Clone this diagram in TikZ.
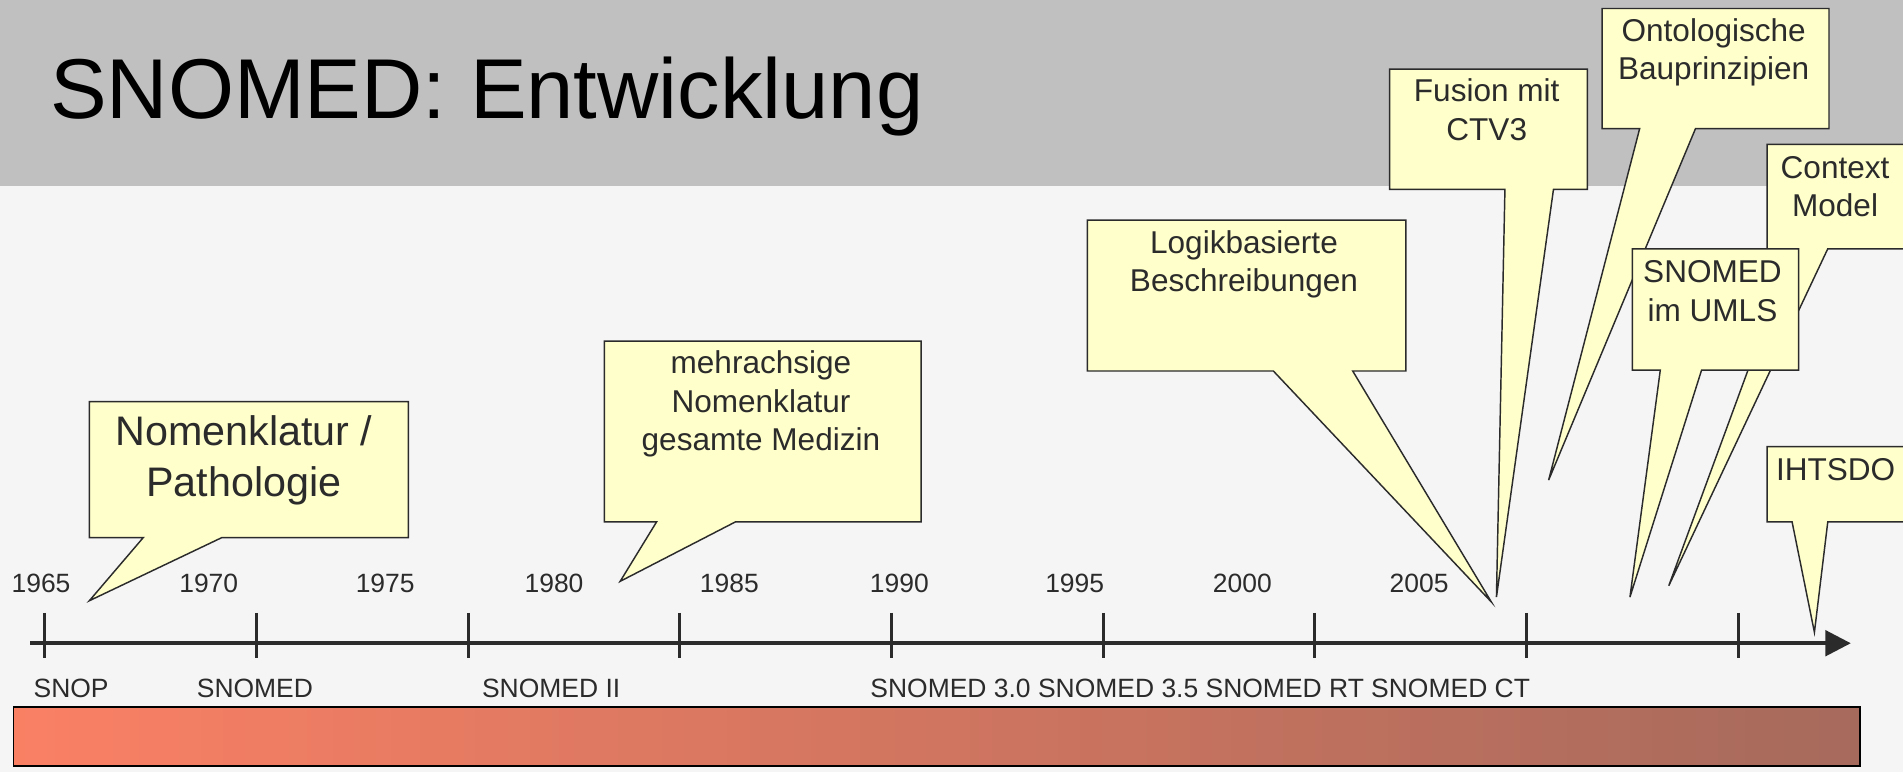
\documentclass[tikz,border=0pt]{standalone}
\usepackage{fontspec}
\setmainfont{Liberation Sans}
\usetikzlibrary{arrows.meta}
\definecolor{titlebar}{HTML}{C0C0C0}
\definecolor{bgcol}{HTML}{F5F5F5}
\definecolor{note}{HTML}{FFFFCC}
\definecolor{ink}{HTML}{2B2B2B}
\definecolor{barL}{RGB}{250,128,100}
\definecolor{barR}{RGB}{166,106,92}
\begin{document}
\begin{tikzpicture}[x=1pt,y=-1pt,
  callout/.style={fill=note,draw=ink,line width=1.2pt,line join=miter},
  ctext/.style={inner sep=0pt,anchor=base,text=ink,font=\fontsize{26}{31.6}\selectfont},
  bigtext/.style={inner sep=0pt,anchor=base,text=ink,font=\fontsize{34}{42.6}\selectfont},
  yearlabel/.style={inner sep=0pt,anchor=base,text=ink,font=\fontsize{21.8}{26}\selectfont},
  versionlabel/.style={inner sep=0pt,anchor=base west,text=ink,font=\fontsize{21.8}{26}\selectfont},
  tickmark/.style={draw=ink,line width=2.6pt},
]
\useasboundingbox (0,0) rectangle (1568,636);
\clip (0,0) rectangle (1568,636);
% background and title bar
\fill[bgcol] (0,0) rectangle (1568,636);
\fill[titlebar] (0,0) rectangle (1568,153);
\node[inner sep=0pt,anchor=base west,text=black,font=\fontsize{70}{84}\selectfont] (title) at (41,97.5) {SNOMED: Entwicklung};

% gradient bar
\shade[left color=barL,right color=barR] (11,582.3) rectangle (1532.6,631);
\draw[black,line width=1.3pt] (11,582.3) rectangle (1532.6,631);

% axis
\coordinate (axS) at (25,530);
\coordinate (axE) at (1525,530);
\draw[ink,line width=3pt,-{Triangle[length=21pt,width=21pt]}] (axS) -- (axE);
\foreach \x in {37,211.4,385.8,560.2,734.6,909,1083.4,1257.8,1432.2}
  \draw[tickmark] (\x,505) -- (\x,542);

% year labels
\node[yearlabel] (y1965) at (33.8,488) {1965};
\node[yearlabel] (y1970) at (172,488) {1970};
\node[yearlabel] (y1975) at (317.4,488) {1975};
\node[yearlabel] (y1980) at (456.5,488) {1980};
\node[yearlabel] (y1985) at (601,488) {1985};
\node[yearlabel] (y1990) at (741,488) {1990};
\node[yearlabel] (y1995) at (885.5,488) {1995};
\node[yearlabel] (y2000) at (1023.6,488) {2000};
\node[yearlabel] (y2005) at (1169.3,488) {2005};

% version labels
\node[versionlabel] (vSnop) at (27.5,575) {SNOP};
\node[versionlabel] (vSnomed) at (162,575) {SNOMED};
\node[versionlabel] (vSnomedII) at (397,575) {SNOMED II};
\node[versionlabel] (vLater) at (717,575) {SNOMED 3.0 SNOMED 3.5 SNOMED RT SNOMED CT};

% callout 1: Nomenklatur / Pathologie
\fill[callout] (73.6,331) -- (336.5,331) -- (336.5,443) -- (182.7,443) -- (73.6,495) -- (118,443) -- (73.6,443) -- cycle;
\node[bigtext] (nomT) at (201,366.7) {\begin{tabular}[t]{@{}c@{}}Nomenklatur /\\Pathologie\end{tabular}};

% callout 2: mehrachsige Nomenklatur
\fill[callout] (498,281) -- (759,281) -- (759,430) -- (606,430) -- (511,479) -- (541,430) -- (498,430) -- cycle;
\node[ctext] (mehrT) at (627,308) {\begin{tabular}[t]{@{}c@{}}mehrachsige\\Nomenklatur\\gesamte Medizin\end{tabular}};

% callout 3: Logikbasierte Beschreibungen
\fill[callout] (896,181.3) -- (1158.3,181.3) -- (1158.3,305.7) -- (1114.6,305.7) -- (1228.8,496) -- (1049.2,305.7) -- (896,305.7) -- cycle;
\node[ctext] (logT) at (1025,208.7) {\begin{tabular}[t]{@{}c@{}}Logikbasierte\\Beschreibungen\end{tabular}};

% callout 4: Fusion mit CTV3
\fill[callout] (1145,57) -- (1308,57) -- (1308,156) -- (1280,156) -- (1233,492) -- (1240,156) -- (1145,156) -- cycle;
\node[ctext] (fusT) at (1225,83.8) {\begin{tabular}[t]{@{}c@{}}Fusion mit\\CTV3\end{tabular}};

% callout 5: Ontologische Bauprinzipien
\fill[callout] (1320,7) -- (1507,7) -- (1507,106) -- (1397,106) -- (1276,395.6) -- (1351,106) -- (1320,106) -- cycle;
\node[ctext] (ontT) at (1412,34.3) {\begin{tabular}[t]{@{}c@{}}Ontologische\\Bauprinzipien\end{tabular}};

% callout 6: Context Model
\fill[callout] (1456,119) -- (1600,119) -- (1600,205) -- (1506,205) -- (1375,482.6) -- (1477,205) -- (1456,205) -- cycle;
\node[ctext] (ctxT) at (1512,147) {\begin{tabular}[t]{@{}c@{}}Context\\Model\end{tabular}};

% callout 7: SNOMED im UMLS
\fill[callout] (1345,205) -- (1482,205) -- (1482,305) -- (1402,305) -- (1343,492) -- (1368,305) -- (1345,305) -- cycle;
\node[ctext] (umlsT) at (1411,233) {\begin{tabular}[t]{@{}c@{}}SNOMED\\im UMLS\end{tabular}};

% callout 8: IHTSDO
\fill[callout] (1456,368) -- (1600,368) -- (1600,430) -- (1506,430) -- (1495,521) -- (1476.6,430) -- (1456,430) -- cycle;
\node[ctext] (ihtT) at (1512.5,395.6) {IHTSDO};
\end{tikzpicture}
\end{document}
